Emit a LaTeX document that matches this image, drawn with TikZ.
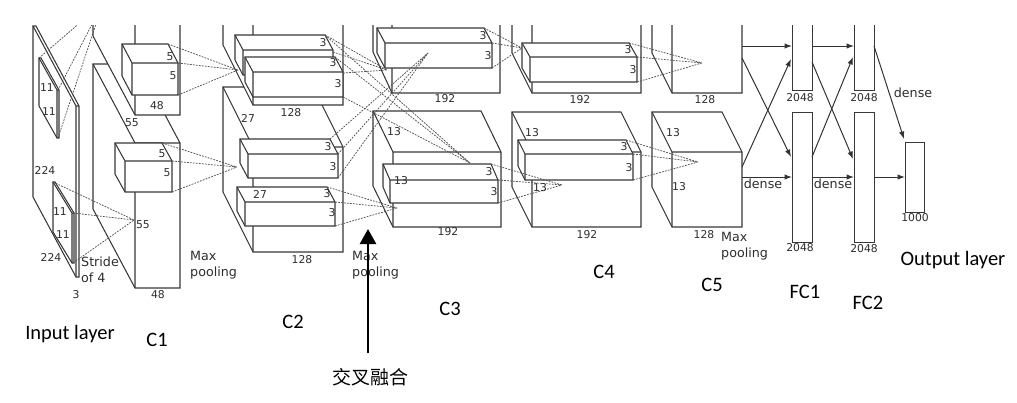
\documentclass[tikz,border=0pt]{standalone}
\usepackage{fontspec}
\newfontfamily\dvs{DejaVu Sans}
\newfontfamily\cbf{Carlito}
\newfontfamily\cjkf{Noto Sans CJK SC}
\usetikzlibrary{arrows.meta}
\newcommand\mycuboid[6]{%
  \filldraw[boxln] (#1,#4) -- ({#1+(#5)},{#4+(#6)}) -- ({#1+(#5)},{#2+(#6)}) -- ({#3+(#5)},{#2+(#6)}) -- (#3,#2) -- (#3,#4) -- cycle;
  \draw[edge] ({#1+(#5)},{#2+(#6)}) -- (#1,#2) -- (#3,#2) (#1,#2) -- (#1,#4);
}
\newcommand\myfan[4]{\draw[dsh] #1 -- (#4) #2 -- (#4) #3 -- (#4);}
\begin{document}
\begin{tikzpicture}[x=1pt,y=-1pt,
 boxln/.style={draw=black!78,line width=1.05pt,fill=white},
 edge/.style={draw=black!78,line width=1.05pt},
 dsh/.style={draw=black!68,line width=0.75pt,dash pattern=on 1.8pt off 1.2pt},
 arr/.style={draw=black!80,line width=1pt,-{Latex[length=7.5pt,width=5.5pt]}},
 num/.style={font=\dvs\fontsize{10.8}{12}\selectfont,text=black!82,inner sep=0pt},
 wrd/.style={font=\dvs\fontsize{12.7}{16.5}\selectfont,text=black!82,inner sep=0pt,align=left,anchor=west},
 lab/.style={font=\cbf\fontsize{20.5}{24}\selectfont,inner sep=0pt},
 fc/.style={draw=black!78,line width=1.05pt,fill=white,minimum width=20pt,inner sep=0pt,anchor=north west}]
\useasboundingbox (0,0) rectangle (1017,402);
\fill[white] (0,0) rectangle (1017,402);
\begin{scope}
\clip (0,25) rectangle (1017,402);
% input layer
\mycuboid{76}{106}{79}{277}{-43}{-80}
\mycuboid{57}{90}{59}{138}{-18}{-32}
\mycuboid{72}{213}{74}{263}{-19}{-31}
% C1
\mycuboid{135}{143}{180}{288}{-42}{-79}
\mycuboid{135}{-60}{180}{115}{-42}{-79}
\mycuboid{132}{63}{178}{95}{-10}{-19}
\mycuboid{125}{161}{172}{192}{-10}{-18}
% C2
\mycuboid{253}{147}{343}{252}{-30}{-60}
\mycuboid{253}{-60}{343}{105}{-30}{-60}
\mycuboid{243}{50}{333}{75}{-8}{-15}
\mycuboid{253}{72}{343}{97}{-8}{-15}
\mycuboid{248}{154}{338}{178}{-8}{-15}
\mycuboid{245}{202}{335}{226}{-8}{-15}
% C3
\mycuboid{393}{152}{501}{227}{-20}{-41}
\mycuboid{392}{-60}{500}{93}{-19}{-41}
\mycuboid{385}{43}{492}{68}{-8}{-15}
\mycuboid{390}{180}{498}{203}{-7}{-16}
% C4
\mycuboid{532}{152}{641}{227}{-20}{-40}
\mycuboid{532}{-60}{641}{93}{-20}{-40}
\mycuboid{530}{57}{637}{82}{-8}{-14}
\mycuboid{525}{154}{633}{180}{-7}{-14}
% C5
\mycuboid{672}{152}{742}{227}{-20}{-40}
\mycuboid{672}{-60}{742}{93}{-20}{-40}
% FC layers
\node[fc,minimum height=150pt] (fc1t) at (792,-60) {};
\node[fc,minimum height=130pt] (fc1b) at (792,112) {};
\node[fc,minimum height=150pt] (fc2t) at (854,-60) {};
\node[fc,minimum height=130pt] (fc2b) at (854,112) {};
\node[fc,minimum width=19pt,minimum height=70pt] (out) at (905,142) {};
% convergence points
\coordinate (k0) at (103,3);
\coordinate (k1) at (134,220);
\coordinate (k2) at (238,70);
\coordinate (k3) at (237,167);
\coordinate (p1) at (387,70);
\coordinate (q1) at (470,163);
\coordinate (p2) at (428,53);
\coordinate (q2) at (397,208);
\coordinate (r1) at (522,48);
\coordinate (r2) at (562,185);
\coordinate (r3) at (702,63);
\coordinate (r4) at (698,162);
\myfan{(39,58)}{(58,90)}{(58,138)}{k0}
\myfan{(53,182)}{(73,213)}{(73,263)}{k1}
\myfan{(168,44)}{(178,63)}{(178,95)}{k2}
\myfan{(162,143)}{(172,161)}{(172,192)}{k3}
\myfan{(325,35)}{(333,52)}{(343,73)}{p1}
\myfan{(325,35)}{(335,57)}{(343,97)}{q1}
\myfan{(330,139)}{(338,154)}{(338,178)}{p2}
\myfan{(327,187)}{(335,202)}{(335,226)}{q2}
\myfan{(484,28)}{(492,43)}{(492,68)}{r1}
\myfan{(491,164)}{(498,180)}{(498,203)}{r2}
\myfan{(629,43)}{(637,57)}{(637,82)}{r3}
\myfan{(626,140)}{(633,154)}{(633,180)}{r4}
% dense arrows
\coordinate (a1) at (742,46);
\coordinate (a2) at (742,58);
\coordinate (a3) at (742,167);
\coordinate (a4) at (742,177);
\draw[arr] (a1) -- (a1 -| fc1t.west);
\draw[arr] (a2) -- (791,157);
\draw[arr] (a3) -- (791,59);
\draw[arr] (a4) -- (a4 -| fc1b.west);
\coordinate (b1) at (812,46);
\coordinate (b2) at (812,62);
\coordinate (b3) at (812,157);
\coordinate (b4) at (812,177);
\draw[arr] (b1) -- (b1 -| fc2t.west);
\draw[arr] (b2) -- (853,159);
\draw[arr] (b3) -- (853,57);
\draw[arr] (b4) -- (b4 -| fc2b.west);
\coordinate (c1) at (874,46);
\coordinate (c2) at (874,177);
\draw[arr] (c1) -- (904,139);
\draw[arr] (c2) -- (c2 -| out.west);
\end{scope}
% labels: input
\node[num] (l1) at (47,88) {11};
\node[num] (l2) at (49,112) {11};
\node[num] (l3) at (45,170) {224};
\node[num] (l4) at (60,212) {11};
\node[num] (l5) at (63,235) {11};
\node[num] (l6) at (51,257) {224};
\node[num] (l7) at (76,295) {3};
\node[wrd] (l8) at (81,270) {Stride\\of 4};
% C1
\node[num] (m1) at (170,57) {5};
\node[num] (m2) at (173,76) {5};
\node[num] (m3) at (157,106) {48};
\node[num] (m4) at (132,123) {55};
\node[num] (m5) at (162,154) {5};
\node[num] (m6) at (167,173) {5};
\node[num] (m7) at (143,225) {55};
\node[num] (m8) at (158,295) {48};
\node[wrd] (m9) at (190,265) {Max\\pooling};
% C2
\node[num] (n1) at (323,43) {3};
\node[num] (n2) at (333,63) {3};
\node[num] (n3) at (338,84) {3};
\node[num] (n4) at (248,118) {27};
\node[num] (n5) at (291,113) {128};
\node[num] (n6) at (328,147) {3};
\node[num] (n7) at (333,167) {3};
\node[num] (n8) at (260,194) {27};
\node[num] (n9) at (327,194) {3};
\node[num] (n10) at (332,213) {3};
\node[num] (n11) at (302,260) {128};
\node[wrd] (n12) at (352,265) {Max\\pooling};
% C3
\node[num] (o1) at (483,36) {3};
\node[num] (o2) at (488,56) {3};
\node[num] (o3) at (445,99) {192};
\node[num] (o4) at (394,132) {13};
\node[num] (o5) at (401,181) {13};
\node[num] (o6) at (489,172) {3};
\node[num] (o7) at (494,192) {3};
\node[num] (o8) at (448,232) {192};
% C4
\node[num] (p01) at (628,50) {3};
\node[num] (p02) at (633,70) {3};
\node[num] (p03) at (580,100) {192};
\node[num] (p04) at (532,133) {13};
\node[num] (p05) at (624,147) {3};
\node[num] (p06) at (629,168) {3};
\node[num] (p07) at (540,188) {13};
\node[num] (p08) at (587,235) {192};
% C5
\node[num] (s1) at (705,100) {128};
\node[num] (s2) at (673,133) {13};
\node[num] (s3) at (679,187) {13};
\node[num] (s4) at (704,235) {128};
\node[wrd] (s5) at (721,246) {Max\\pooling};
% FC
\node[num] (t1) at (800,98) {2048};
\node[num] (t2) at (800,248) {2048};
\node[num] (t3) at (864,98) {2048};
\node[num] (t4) at (864,249) {2048};
\node[num] (t5) at (915,218) {1000};
\node[wrd,anchor=center] (t6) at (763,184) {dense};
\node[wrd,anchor=center] (t7) at (833,184) {dense};
\node[wrd,anchor=center] (t8) at (913,93) {dense};
% bottom captions
\node[lab] (u1) at (70,334) {Input layer};
\node[lab] (u2) at (157,340) {C1};
\node[lab] (u3) at (293,322) {C2};
\node[lab] (u4) at (450,309) {C3};
\node[lab] (u5) at (604,272) {C4};
\node[lab] (u6) at (712,285) {C5};
\node[lab] (u7) at (805,292) {FC1};
\node[lab] (u8) at (868,303) {FC2};
\node[lab] (u9) at (953,260) {Output layer};
\node[font=\cjkf\fontsize{19}{22}\selectfont,inner sep=0pt] (cf) at (370,377) {交叉融合};
\coordinate (cfa) at (368,353);
\coordinate (cfb) at (368,229);
\draw[line width=2.6pt,-{Triangle[length=15pt,width=16pt]}] (cfa) -- (cfb);
\end{tikzpicture}
\end{document}
